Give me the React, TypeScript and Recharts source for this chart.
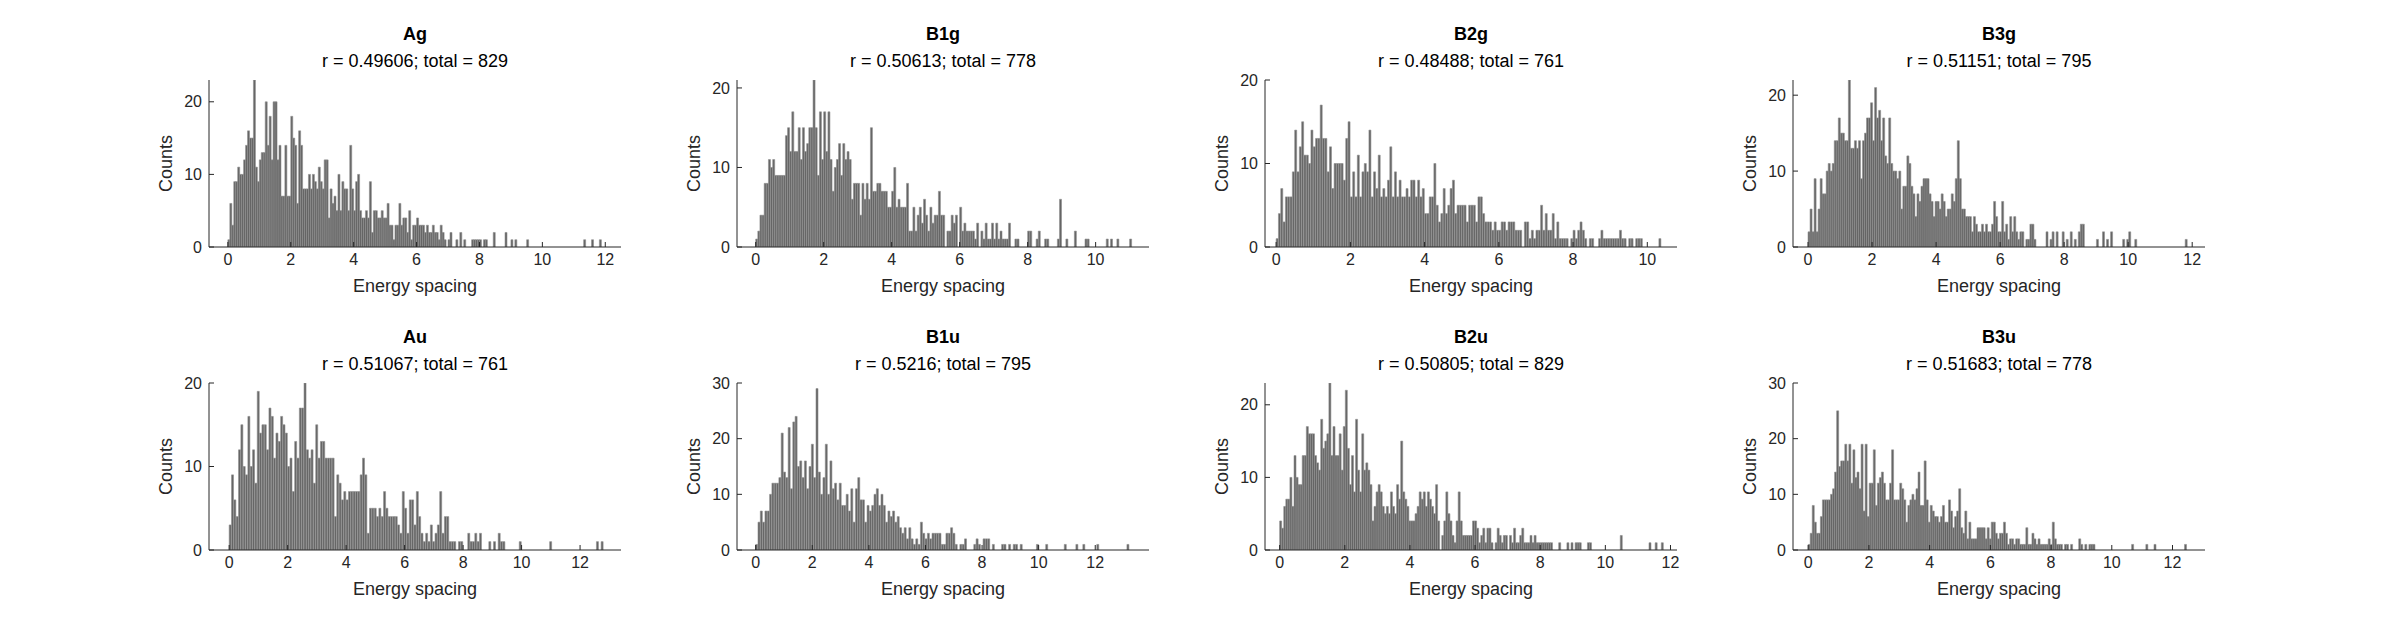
import React from "react";
import { BarChart, Bar, XAxis, YAxis } from "recharts";

// panel labels
const names = ["Ag", "B1g", "B2g", "B3g", "Au", "B1u", "B2u", "B3u"];
const subtitles = [
  "r = 0.49606; total = 829",
  "r = 0.50613; total = 778",
  "r = 0.48488; total = 761",
  "r = 0.51151; total = 795",
  "r = 0.51067; total = 761",
  "r = 0.5216; total = 795",
  "r = 0.50805; total = 829",
  "r = 0.51683; total = 778",
];

// bin widths and axes
const binWidths = [0.0625, 0.0625, 0.0625, 0.063, 0.08, 0.082, 0.063, 0.067];
const xDomains: [number, number][] = [
  [-0.6, 12.5], [-0.55, 11.57], [-0.3, 10.8], [-0.47, 12.4],
  [-0.69, 13.4], [-0.66, 13.9], [-0.45, 12.2], [-0.5, 13.07],
];
const xTickSets = [
  [0, 2, 4, 6, 8, 10, 12], [0, 2, 4, 6, 8, 10], [0, 2, 4, 6, 8, 10], [0, 2, 4, 6, 8, 10, 12],
  [0, 2, 4, 6, 8, 10, 12], [0, 2, 4, 6, 8, 10, 12], [0, 2, 4, 6, 8, 10, 12], [0, 2, 4, 6, 8, 10, 12],
];
const yMaxes = [23, 21, 20, 22, 20, 30, 23, 30];
const yTickSets = [
  [0, 10, 20], [0, 10, 20], [0, 10, 20], [0, 10, 20],
  [0, 10, 20], [0, 10, 20, 30], [0, 10, 20], [0, 10, 20, 30],
];

// counts per bin starting at 0
const agCounts = [1,6,3,9,9,11,10,10,12,14,16,15,15,23,11,9,12,13,13,20,14,18,12,20,20,12,14,7,7,14,7,7,18,15,14,6,16,14,8,8,8,10,8,10,9,8,11,9,8,12,12,4,8,6,7,5,10,5,9,8,8,5,14,8,5,9,10,5,4,4,5,4,9,2,5,5,4,4,5,4,4,6,3,3,1,3,3,6,3,4,4,2,5,1,3,3,4,3,3,3,2,3,2,2,3,2,2,1,3,2,1,0,1,1,0,0,1];
const b1gCounts = [1,2,4,4,8,8,11,10,11,9,9,9,9,9,14,15,12,17,12,12,15,11,15,12,13,15,15,21,15,9,17,11,17,12,17,11,7,10,11,13,9,13,11,12,11,6,8,8,8,4,8,6,8,6,15,7,7,8,8,7,7,7,5,5,7,10,5,6,5,5,5,8,2,2,5,2,4,5,3,6,4,2,5,3,4,4,7,4,4,0,2,2,4,3,4,0,5,2,3,2,2,2,2,1,3,0,2,1,3,1,1,3,1,3,1,2,1,1,1,1];
const b2gCounts = [1,4,7,3,6,6,6,9,14,9,12,15,11,11,10,14,12,13,13,17,13,13,9,12,7,10,10,10,10,8,13,15,6,9,6,11,6,9,10,9,14,6,9,7,11,6,7,6,8,12,6,9,6,8,6,6,7,6,8,8,6,8,6,7,4,4,6,6,10,5,3,4,7,4,5,7,8,4,5,5,5,5,3,5,5,5,3,6,6,4,3,3,3,2,3,2,2,3,3,2,3,3,3,2,2,2,0,3,3,1,2,1,2,2,5,2,4,2,2,4,1,3,1,1,1,1,0,1,2,1,2,3,2,1,0,1,1,0,0,1,2,1,1,1,1,1,1,1,2,1,1,0,1,1,0,1,1,1];
const b3gCounts = [2,5,2,9,2,5,9,7,7,10,11,10,11,14,14,17,15,15,14,14,22,13,13,14,13,14,9,14,15,17,17,19,14,21,17,18,14,17,12,11,17,11,10,10,9,10,5,8,8,12,11,8,7,4,7,6,8,9,9,9,7,6,4,6,6,5,7,6,4,5,5,7,6,9,14,9,5,5,4,4,4,2,4,3,2,2,3,2,3,2,2,3,6,4,2,2,6,2,3,1,4,2,4,2,1,2,2,0,1,1,3,3,1];
const auCounts = [3,9,6,4,12,15,10,9,16,10,12,8,19,14,15,15,12,17,16,11,14,13,16,15,14,10,11,7,13,11,17,17,20,12,11,12,8,15,11,13,13,11,11,11,11,4,9,8,6,7,6,7,7,7,7,7,9,11,9,2,5,5,5,4,5,4,7,5,4,4,4,4,3,2,7,5,2,6,6,3,7,4,2,1,2,1,3,1,2,3,7,2,4,4,1,1,1,0,1,1,0,0,2,1,1,2,1,2,0,0,0,1,0,1,0,2,1,1];
const b1uCounts = [1,5,7,5,7,7,10,12,12,12,13,21,14,13,22,11,23,24,15,16,13,16,11,15,19,13,29,14,10,13,19,10,16,11,12,9,12,8,8,10,7,11,5,11,13,9,9,5,8,7,8,10,11,8,10,8,5,7,6,7,5,6,4,3,4,2,4,2,1,2,1,5,3,2,3,2,3,3,3,3,1,1,3,3,4,3,1,0,1,1,2,0,0,0,1,2,1,0,2,2,2,0,1,0,0,0,1,1,0,1,0,1,1,0,1];
const b2uCounts = [4,3,6,7,7,10,6,13,10,9,9,13,13,17,16,16,16,13,12,11,18,14,15,16,23,13,17,13,13,16,11,17,22,14,9,13,8,18,11,8,16,11,12,11,9,4,6,8,9,8,6,5,6,5,8,6,5,9,7,15,8,7,6,4,4,4,5,6,8,7,8,6,8,7,6,5,9,4,0,2,4,8,5,4,2,1,4,8,4,2,2,2,2,2,4,4,3,1,2,3,1,3,3,1,0,1,3,2,1,2,2,0,2,1,3,1,1,2,3,1,1,1,2,1,2,1,1,1,1,1,1,1,1,0,0,0,1,0,0,0,1,0,1,0,1,1,1];
const b3uCounts = [1,3,8,5,3,3,6,9,9,9,9,10,11,14,25,15,16,16,19,16,19,12,18,13,14,11,19,7,19,6,12,12,18,8,12,13,14,12,9,9,12,18,9,9,9,12,11,9,5,8,9,10,9,11,14,8,8,16,9,5,8,7,6,6,5,6,8,5,5,9,7,4,6,7,11,4,3,7,2,5,2,2,2,4,4,4,4,2,4,2,5,5,3,2,3,3,5,3,1,2,2,1,2,2,1,1,1,4,1,1,3,2,1,2,1,1,1,1,2,1,5,2,1,1,1,0,1,1,0,1,0,0,0,2,1,0,1,0,1,1,1];
const headCounts = [agCounts, b1gCounts, b2gCounts, b3gCounts, auCounts, b1uCounts, b2uCounts, b3uCounts];

// sparse tails: [spacing, count]
const tails: [number, number][][] = [
  [[7.12,1],[7.39,2],[7.54,1],[7.78,1],[7.84,1],[7.9,1],[7.97,1],[8.03,1],[8.15,1],[8.22,1],[8.44,2],[8.87,2],[9.0,1],[9.13,1],[9.56,1],[11.35,1],[11.57,1],[11.85,1]],
  [[7.49,2],[7.64,1],[7.73,1],[8.03,2],[8.1,2],[8.28,1],[8.37,2],[8.52,1],[8.62,1],[8.92,1],[8.99,6],[9.16,1],[9.41,2],[9.7,1],[9.76,1],[10.34,1],[10.47,1],[10.67,1],[11.04,1]],
  [[10.32,1]],
  [[7.47,2],[7.6,1],[7.68,2],[7.81,2],[7.95,2],[8.07,1],[8.22,2],[8.37,1],[8.45,2],[8.53,3],[8.58,2],[8.63,1],[9.03,1],[9.26,2],[9.37,1],[9.47,2],[9.86,1],[9.97,1],[10.05,2],[10.21,1],[11.79,1]],
  [[9.99,1],[11.0,1],[12.56,1],[12.79,1]],
  [[9.96,1],[10.3,1],[10.94,1],[11.35,1],[11.59,1],[12.12,1],[13.18,1]],
  [[9.49,1],[9.55,1],[10.48,2],[11.37,1],[11.58,1],[11.74,1]],
  [[10.67,1],[11.17,1],[11.39,1],[12.44,1]],
];

const plotLefts = [209, 737, 1265, 1793];
const plotTops = [80, 383];
const plotW = 412;
const plotH = 167;
const font = "'Liberation Sans', Arial, sans-serif";
const ink = "#262626";

function buildBins(p: number) {
  const bw = binWidths[p];
  const counts = headCounts[p].slice();
  tails[p].forEach(([x, c]) => {
    const i = Math.floor(x / bw);
    while (counts.length <= i) counts.push(0);
    counts[i] += c;
  });
  return counts.map((c, i) => ({ x: (i + 0.5) * bw, c }));
}

const Panel: React.FC<{ p: number }> = ({ p }) => {
  const left = plotLefts[p % 4] - 60;
  const top = plotTops[Math.floor(p / 4)] - 80;
  const data = buildBins(p);
  const tickStyle = { fontSize: 16, fill: ink, fontFamily: font };
  return (
    <div style={{ position: "absolute", left, top, width: plotW + 70, height: plotH + 140 }}>
      <div style={{ position: "absolute", left: 60, width: plotW, top: 24, textAlign: "center", fontFamily: font, fontWeight: "bold", fontSize: 18, color: "#000" }}>
        {names[p]}
      </div>
      <div style={{ position: "absolute", left: 60, width: plotW, top: 51, textAlign: "center", fontFamily: font, fontSize: 18, color: "#000" }}>
        {subtitles[p]}
      </div>
      <div style={{ position: "absolute", left: 60, width: plotW, top: 276, textAlign: "center", fontFamily: font, fontSize: 18, color: ink }}>
        Energy spacing
      </div>
      <div style={{ position: "absolute", left: 17 - 40, width: 80, top: 80 + plotH / 2 - 11, textAlign: "center", fontFamily: font, fontSize: 18, color: ink, transform: "rotate(-90deg)" }}>
        Counts
      </div>
      <div style={{ position: "absolute", left: 0, top: 0 }}>
        <BarChart
          width={plotW + 70}
          height={plotH + 80 + 45}
          data={data}
          margin={{ top: 80, right: 10, left: 0, bottom: 0 }}
          barCategoryGap={0}
          barGap={0}
        >
          <XAxis
            xAxisId="b"
            dataKey="x"
            type="number"
            domain={xDomains[p]}
            ticks={xTickSets[p]}
            allowDataOverflow
            height={45}
            tick={tickStyle}
            tickSize={-5}
            tickMargin={12}
            stroke={ink}
          />
          <XAxis xAxisId="t" orientation="top" dataKey="x" type="number" domain={xDomains[p]} ticks={xTickSets[p]} allowDataOverflow height={0} tick={false} tickSize={-5} stroke={ink} />
          <YAxis
            yAxisId="l"
            domain={[0, yMaxes[p]]}
            ticks={yTickSets[p]}
            allowDataOverflow
            width={60}
            tick={tickStyle}
            tickSize={-5}
            tickMargin={12}
            stroke={ink}
          />
          <YAxis yAxisId="r" orientation="right" domain={[0, yMaxes[p]]} ticks={yTickSets[p]} allowDataOverflow width={0} tick={false} tickSize={-5} stroke={ink} />
          <Bar xAxisId="b" yAxisId="l" dataKey="c" fill="#656565" stroke="#8f8f8f" strokeWidth={0.6} isAnimationActive={false} />
        </BarChart>
      </div>
    </div>
  );
};

export default function App() {
  return (
    <div style={{ position: "absolute", left: 0, top: 0, width: 2403, height: 625, background: "#fff" }}>
      {names.map((_, p) => (
        <Panel key={p} p={p} />
      ))}
    </div>
  );
}
